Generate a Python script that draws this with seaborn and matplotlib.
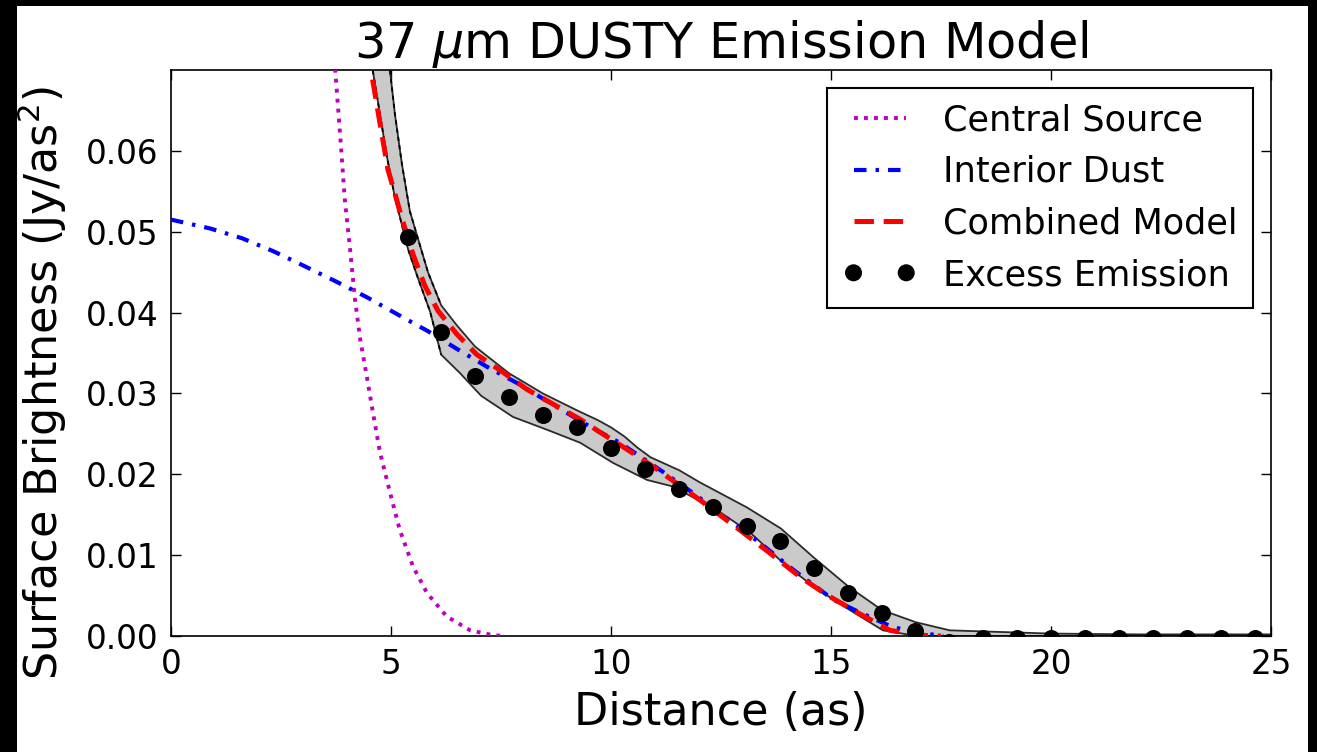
import numpy as np
import matplotlib
matplotlib.use("Agg")
import matplotlib.pyplot as plt
from matplotlib.patches import Rectangle
import seaborn as sns

# Central source profile (arcsec, Jy/as^2)
central_x = [3.60, 3.73, 3.85, 3.95, 4.07, 4.18, 4.30, 4.45, 4.59, 4.75, 4.98,
             5.20, 5.50, 5.82, 6.27, 6.80, 7.32, 7.60]
central_y = [0.0790, 0.0702, 0.0615, 0.0540, 0.0478, 0.0417, 0.0367, 0.0321,
             0.0276, 0.0227, 0.0177, 0.0131, 0.0086, 0.0053, 0.0024, 0.0007,
             0.0001, 0.0000]

# Interior dust profile
interior_x = [0.00, 0.89, 1.61, 2.32, 3.05, 3.73, 4.45, 5.14, 5.84, 6.50, 7.18,
              7.86, 8.50, 9.52, 10.20, 11.18, 11.86, 12.77, 13.39, 14.14, 15.05,
              15.66, 16.40, 17.00, 17.55]
interior_y = [0.0515, 0.0504, 0.0492, 0.0476, 0.0457, 0.0439, 0.0419, 0.0398,
              0.0377, 0.0355, 0.0333, 0.0313, 0.0292, 0.0259, 0.0239, 0.0203,
              0.0177, 0.0140, 0.0115, 0.0082, 0.0045, 0.0029, 0.0011, 0.0004,
              0.0000]

# Combined model (central source + interior dust)
combined_x = [4.45, 4.57, 4.75, 4.93, 5.10, 5.25, 5.50, 5.77, 6.07, 6.50, 6.95,
              7.55, 8.09, 8.61, 9.30, 9.75, 10.36, 11.05, 12.00, 12.93, 13.60,
              14.30, 14.90, 15.60, 16.34, 17.00, 17.50]
combined_y = [0.0760, 0.0692, 0.0634, 0.0577, 0.0545, 0.0516, 0.0472, 0.0433,
              0.0402, 0.0373, 0.0348, 0.0326, 0.0305, 0.0289, 0.0268, 0.0252,
              0.0231, 0.0206, 0.0169, 0.0131, 0.0103, 0.0073, 0.0051, 0.0029,
              0.0007, 0.0001, 0.0000]

# Measured excess emission
excess_x = [5.39, 6.14, 6.91, 7.68, 8.45, 9.23, 10.00, 10.77, 11.55, 12.32,
            13.09, 13.84, 14.61, 15.39, 16.16, 16.91, 17.68, 18.45, 19.23,
            20.00, 20.77, 21.55, 22.32, 23.09, 23.86, 24.64]
excess_y = [0.0493, 0.0376, 0.0322, 0.0296, 0.0273, 0.0258, 0.0233, 0.0206,
            0.0182, 0.0160, 0.0136, 0.0117, 0.0084, 0.0053, 0.0029, 0.0006,
            -0.0008, -0.0003, -0.0003, -0.0003, -0.0003, -0.0003, -0.0003,
            -0.0003, -0.0003, -0.0003]

# Uncertainty envelope of the excess emission
upper_x = [4.88, 4.98, 5.09, 5.25, 5.43, 5.61, 5.84, 6.14, 6.50, 6.91, 7.68,
           8.45, 9.23, 9.70, 10.00, 10.30, 10.60, 10.90, 11.55, 12.02, 13.09,
           13.86, 14.63, 15.40, 16.16, 16.93, 17.70, 18.84, 20.00, 22.00, 25.00]
upper_y = [0.0740, 0.0698, 0.0645, 0.0583, 0.0525, 0.0492, 0.0450, 0.0409,
           0.0384, 0.0358, 0.0325, 0.0300, 0.0279, 0.0267, 0.0258, 0.0247,
           0.0233, 0.0221, 0.0205, 0.0190, 0.0159, 0.0133, 0.0096, 0.0061,
           0.0032, 0.0017, 0.0007, 0.0005, 0.0003, 0.0002, 0.0002]
lower_x = [4.50, 4.59, 4.75, 4.91, 5.09, 5.25, 5.39, 5.61, 5.89, 6.14, 6.57,
           7.05, 7.77, 8.55, 9.30, 10.05, 10.82, 11.40, 12.40, 13.16, 13.84,
           14.60, 15.43, 16.18, 16.95, 17.70, 25.00]
lower_y = [0.0730, 0.0698, 0.0645, 0.0592, 0.0542, 0.0508, 0.0478, 0.0443,
           0.0401, 0.0348, 0.0325, 0.0297, 0.0271, 0.0255, 0.0239, 0.0214,
           0.0193, 0.0185, 0.0156, 0.0128, 0.0094, 0.0061, 0.0032, 0.0007,
           0.0000, 0.0000, 0.0000]

x_ticks = [0, 5, 10, 15, 20, 25]
y_ticks = [0.00, 0.01, 0.02, 0.03, 0.04, 0.05, 0.06]

sns.set_style("white")
plt.rcParams.update({
    "font.family": ["DejaVu Sans"],
    "mathtext.fontset": "dejavusans",
    "lines.scale_dashes": False,
    "text.color": "black",
    "axes.labelcolor": "black",
    "xtick.labelcolor": "black",
    "ytick.labelcolor": "black",
    "xtick.direction": "in",
    "ytick.direction": "in",
    "xtick.top": True,
    "ytick.right": True,
    "xtick.bottom": True,
    "ytick.left": True,
    "xtick.major.size": 7,
    "ytick.major.size": 7,
    "xtick.major.width": 1.0,
    "ytick.major.width": 1.0,
    "xtick.color": "black",
    "ytick.color": "black",
    "axes.edgecolor": "black",
    "axes.linewidth": 1.2,
})

fig = plt.figure(figsize=(13.17, 7.52), dpi=100)
fig.patch.set_facecolor("black")
fig.add_artist(Rectangle((17 / 1317, 0), 1291 / 1317, 746 / 752,
                         transform=fig.transFigure, facecolor="white",
                         edgecolor="none", zorder=-5))
ax = fig.add_axes([171 / 1317, 116 / 752, 1100 / 1317, 566 / 752])

# Envelope polygon: upper edge left-to-right, lower edge back right-to-left
poly_x = np.concatenate([upper_x, lower_x[::-1]])
poly_y = np.concatenate([upper_y, lower_y[::-1]])
ax.fill(poly_x, poly_y, facecolor="#cacaca", edgecolor="#2a2a2a",
        linewidth=1.3, zorder=1)
# dashed outline on the steep inner part of the envelope
ax.plot(upper_x[:8], upper_y[:8], color="black", lw=1.3,
        linestyle=(0, (3, 3)), zorder=2)
ax.plot(lower_x[:10], lower_y[:10], color="black", lw=1.3,
        linestyle=(0, (3, 3)), zorder=2)

sns.lineplot(x=central_x, y=central_y, ax=ax, color="#bf00bf", lw=2.8,
             linestyle=(0, (2.8, 4.4)), label="Central Source",
             estimator=None, sort=False, zorder=3)
sns.lineplot(x=interior_x, y=interior_y, ax=ax, color="#0000ff", lw=3.0,
             linestyle=(0, (9, 6.5, 2.5, 6.5)), label="Interior Dust",
             estimator=None, sort=False, zorder=3)
sns.lineplot(x=combined_x, y=combined_y, ax=ax, color="#ff0000", lw=3.6,
             linestyle=(0, (14, 7)), label="Combined Model",
             estimator=None, sort=False, zorder=4)
sns.scatterplot(x=excess_x, y=excess_y, ax=ax, color="black", s=150,
                linewidth=0, label="Excess Emission", zorder=5)

ax.set_xlim(0, 25)
ax.set_ylim(0, 0.07)
ax.set_xticks(x_ticks)
ax.set_xticklabels([str(t) for t in x_ticks])
ax.set_yticks(y_ticks)
ax.set_yticklabels([f"{t:.2f}" for t in y_ticks])
ax.tick_params(axis="both", labelsize=23.5, pad=9)

ax.set_title("37 $\\mu$m DUSTY Emission Model", fontsize=35.5, pad=6)
ax.set_xlabel("Distance (as)", fontsize=32, labelpad=7)
ax.set_ylabel("Surface Brightness (Jy/as$^2$)", fontsize=32)
ax.yaxis.set_label_coords(-0.093, 0.447)

handles, labels = ax.get_legend_handles_labels()
leg = ax.legend(handles, labels, loc="upper right", fontsize=25.3,
                numpoints=2, scatterpoints=2, scatteryoffsets=[0.5],
                handlelength=2.1, handletextpad=0.75, borderaxespad=0.5,
                borderpad=0.45, labelspacing=0.5, fancybox=False,
                framealpha=1, edgecolor="black")
leg.get_frame().set_linewidth(1.5)

fig.savefig("out.png", dpi=100, facecolor=fig.get_facecolor())
